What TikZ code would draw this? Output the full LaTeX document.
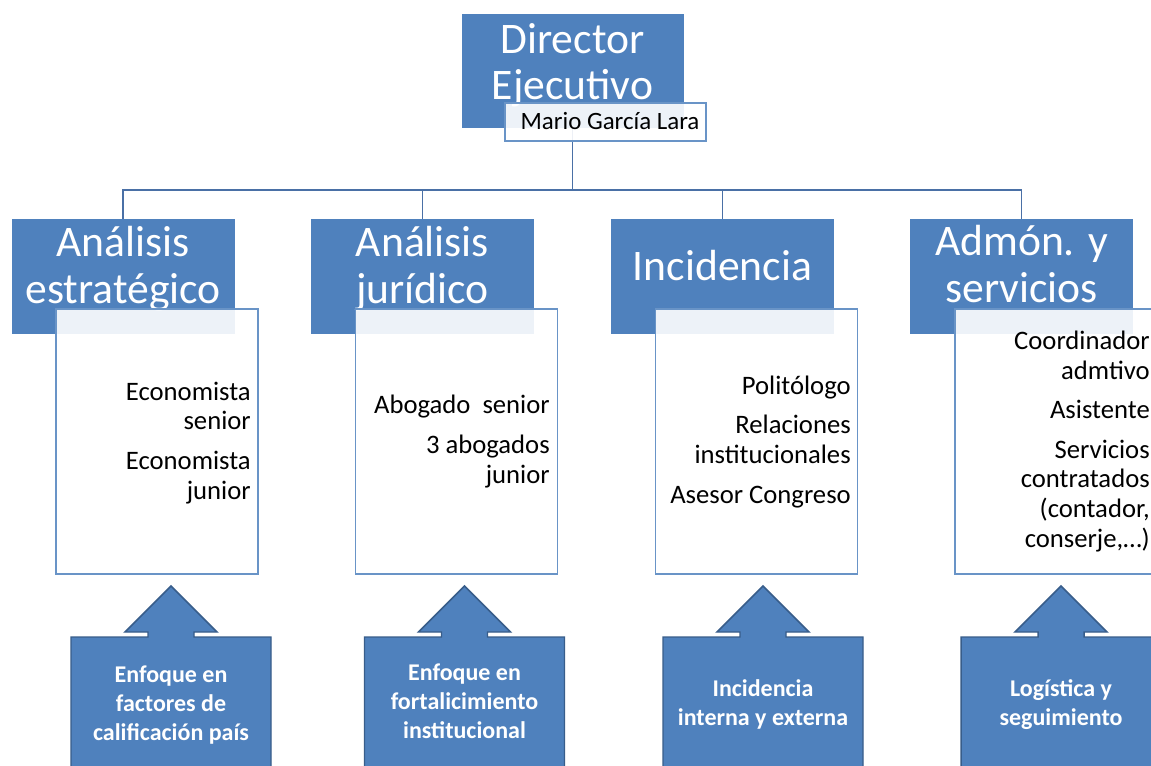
\documentclass[tikz,border=0pt]{standalone}
\usepackage{fontspec}
\setmainfont{Carlito}
\definecolor{obl}{HTML}{4F81BD}
\definecolor{obd}{HTML}{385D8A}
\definecolor{cline}{HTML}{4A70A6}
\tikzset{
 bluebox/.style={rectangle, fill=obl, draw=obl, inner sep=0pt, minimum width=166.5pt, minimum height=85.5pt},
 whitebox/.style={rectangle, fill=white, fill opacity=0.9, draw=obl!85!white, line width=1.1pt, inner sep=0pt, minimum width=151.5pt, minimum height=198.75pt},
 bigtxt/.style={text=white, font=\fontsize{32.7}{35}\selectfont, align=center, anchor=base, inner sep=0pt},
 roletxt/.style={text=black, font=\fontsize{20}{22.2}\selectfont, align=right, anchor=base east, inner sep=0pt},
 calltxt/.style={text=white, font=\bfseries\fontsize{18}{21.4}\selectfont, align=center, anchor=base, inner sep=0pt},
 callout/.style={fill=obl, draw=obd, line width=1.1pt},
 conn/.style={draw=cline, line width=1.3pt},
}
\begin{document}
\begin{tikzpicture}[x=0.75pt,y=-0.75pt]
\path[use as bounding box, clip] (0,0) rectangle (1151,766);
\fill[white] (0,0) rectangle (1151,766);
% Director
\node[bluebox, minimum width=165.75pt, minimum height=84.75pt] (dir) at (572.5,70.5) {};
\node[bigtxt] (dirt) at (572.5,100) {Director\\Ejecutivo};
\coordinate (bus) at (572.5,190);
% level 2 boxes
\node[bluebox] (b1) at (123,276) {};
\node[bluebox] (b2) at (422.5,276) {};
\node[bluebox] (b3) at (722.5,276) {};
\node[bluebox] (b4) at (1021.5,276) {};
% connectors
\draw[conn] (dir.south) -- (bus);
\draw[conn] (bus) -| (b1.north);
\draw[conn] (bus) -| (b2.north);
\draw[conn] (bus) -| (b3.north);
\draw[conn] (bus) -| (b4.north);
% Mario
\node[whitebox, minimum width=150.75pt, minimum height=28.5pt] (mario) at (605.5,122) {};
\node[font=\fontsize{18.7}{20}\selectfont, anchor=base, inner sep=0pt] (mariot) at (610,129.5) {Mario García Lara};
% titles
\node[bigtxt] (t1) at (123,303) {Análisis\\estratégico};
\node[bigtxt] (t2) at (422.5,303) {Análisis\\jurídico};
\node[bigtxt] (t3) at (722.5,281) {Incidencia};
\node[bigtxt] (t4) at (1021.5,302) {Admón. y\\servicios};
% white boxes
\node[whitebox] (w1) at (157,441.5) {};
\node[whitebox] (w2) at (456.5,441.5) {};
\node[whitebox] (w3) at (756.5,441.5) {};
\node[whitebox] (w4) at (1056,441.5) {};
\node[roletxt] (r1) at (251,499) {Economista\\senior\\[7.5pt]Economista\\junior};
\node[roletxt] (r2) at (550,483) {Abogado~ senior\\[7.5pt]3 abogados\\junior};
\node[roletxt] (r3) at (851,503) {Politólogo\\[7.5pt]Relaciones\\institucionales\\[7.5pt]Asesor Congreso};
\node[roletxt] (r4) at (1150,547) {Coordinador\\admtivo\\[7.5pt]Asistente\\[7.5pt]Servicios\\contratados\\(contador,\\conserje,…)};
% callouts
\foreach \cx in {171,464.5,763,1061}{
  \draw[callout] ({\cx-100},790) -- ({\cx-100},637) -- ({\cx-23},637) -- ({\cx-23},632) -- ({\cx-46},632) -- (\cx,586) -- ({\cx+46},632) -- ({\cx+23},632) -- ({\cx+23},637) -- ({\cx+100},637) -- ({\cx+100},790) -- cycle;
}
\node[calltxt] (c1) at (171,740) {Enfoque en\\factores de\\calificación país};
\node[calltxt] (c2) at (464.5,738) {Enfoque en\\fortalicimiento\\institucional};
\node[calltxt] (c3) at (763,725) {Incidencia\\interna y externa};
\node[calltxt] (c4) at (1061,725) {Logística y\\seguimiento};
\end{tikzpicture}
\end{document}
